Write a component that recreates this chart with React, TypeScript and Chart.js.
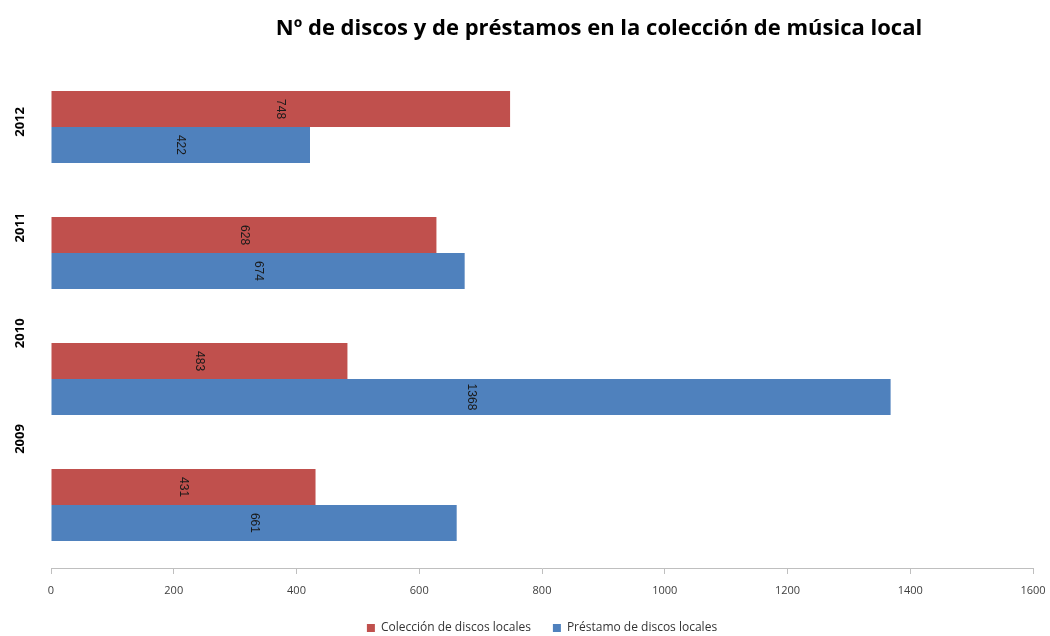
import React, { useEffect, useRef } from 'react';
import { Chart, registerables } from 'chart.js';

Chart.register(...registerables);

const chartTitle = 'Nº de discos y de préstamos en la colección de música local';
const categories = ['2012', '2011', '2010', '2009'];
const seriesNames = ['Colección de discos locales', 'Préstamo de discos locales'];
const coleccion = [748, 628, 483, 431];
const prestamo = [422, 674, 1368, 661];
const xMin = 0;
const xMax = 1600;
const xStep = 200;

const RED = '#C0504D';
const BLUE = '#4F81BD';

const LABEL_MIN = -0.548;
const LABEL_MAX = 4.221;

const titlePlugin = {
  id: 'offsetTitle',
  afterDraw(chart: any) {
    const { ctx, chartArea } = chart;
    ctx.save();
    ctx.font = 'bold 22px "Open Sans"';
    ctx.fillStyle = '#000';
    ctx.textAlign = 'center';
    ctx.textBaseline = 'middle';
    ctx.fillText(chartTitle, (chartArea.left + chartArea.right) / 2 + 57, 29);
    ctx.restore();
  },
};

const barLabelPlugin = {
  id: 'barLabels',
  afterDatasetsDraw(chart: any) {
    const { ctx } = chart;
    ctx.save();
    ctx.font = '12px "Liberation Sans"';
    ctx.fillStyle = '#1a1a1a';
    ctx.textAlign = 'center';
    ctx.textBaseline = 'middle';
    chart.data.datasets.forEach((ds: any, di: number) => {
      const meta = chart.getDatasetMeta(di);
      meta.data.forEach((el: any, i: number) => {
        const p = el.getProps(['x', 'y', 'base'], true);
        ctx.save();
        ctx.translate((p.x + p.base) / 2, p.y);
        ctx.rotate(Math.PI / 2);
        ctx.fillText(String(ds.data[i]), 0, 0);
        ctx.restore();
      });
    });
    ctx.restore();
  },
};

export default function App() {
  const ref = useRef<HTMLCanvasElement>(null);

  useEffect(() => {
    if (!ref.current) return;
    const chart = new Chart(ref.current, {
      type: 'bar',
      data: {
        labels: categories,
        datasets: [
          { label: seriesNames[0], data: coleccion, backgroundColor: RED, borderWidth: 0 },
          { label: seriesNames[1], data: prestamo, backgroundColor: BLUE, borderWidth: 0 },
        ],
      },
      options: {
        indexAxis: 'y',
        animation: false,
        responsive: true,
        maintainAspectRatio: false,
        datasets: { bar: { categoryPercentage: 0.57, barPercentage: 1 } },
        layout: { padding: { top: 64, right: 17, left: 0, bottom: -8 } },
        scales: {
          x: {
            min: xMin,
            max: xMax,
            ticks: {
              stepSize: xStep,
              callback: (v: any) => String(v),
              font: { family: '"Open Sans"', size: 11 },
              color: '#404040',
              padding: 10,
            },
            grid: { drawOnChartArea: false, drawTicks: true, tickLength: 6, color: '#bfbfbf' },
            border: { display: true, color: '#bfbfbf' },
            afterFit: (s: any) => {
              s.height = 32;
              s.paddingLeft = 0;
              s.paddingRight = 0;
            },
          },
          y: { display: false },
          yLabels: {
            type: 'linear',
            position: 'left',
            reverse: true,
            offset: false,
            bounds: 'data',
            min: LABEL_MIN,
            max: LABEL_MAX,
            afterBuildTicks: (s: any) => {
              s.ticks = categories.map((_, i) => ({ value: i }));
            },
            afterFit: (s: any) => { s.width = 51; },
            ticks: {
              callback: (v: any) => categories[v] ?? '',
              minRotation: 90,
              maxRotation: 90,
              crossAlign: 'center',
              padding: 16,
              font: { family: '"Open Sans"', size: 13, weight: 'bold' },
              color: '#000',
              autoSkip: false,
            },
            grid: { display: false, drawTicks: false, offset: false },
            border: { display: false },
          },
        } as any,
        plugins: {
          title: { display: false },
          tooltip: { enabled: false },
          legend: {
            position: 'bottom',
            fullSize: false,
            labels: {
              boxWidth: 8,
              boxHeight: 8,
              padding: 22,
              font: { family: '"Open Sans"', size: 12 },
              color: '#333',
            },
          },
        },
      },
      plugins: [titlePlugin, barLabelPlugin],
    });
    return () => chart.destroy();
  }, []);

  return (
    <div style={{ position: 'fixed', left: 0, top: 0, width: 1050, height: 636, background: '#fff' }}>
      <canvas ref={ref} />
    </div>
  );
}
